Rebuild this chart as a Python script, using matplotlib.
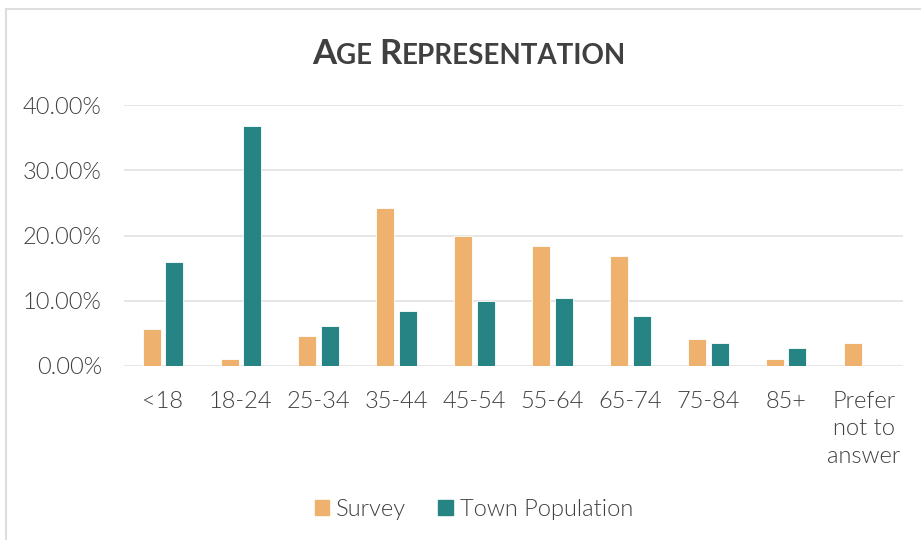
import matplotlib.pyplot as plt
import numpy as np
from matplotlib.patches import Patch, Rectangle
from matplotlib.offsetbox import TextArea, HPacker, AnchoredOffsetbox
from matplotlib.ticker import PercentFormatter

# Data
categories = ["<18", "18-24", "25-34", "35-44", "45-54", "55-64",
              "65-74", "75-84", "85+", "Prefer\nnot to\nanswer"]
survey = [5.7, 1.0, 4.6, 24.2, 20.0, 18.4, 16.8, 4.2, 1.0, 3.6]
town = [15.9, 36.8, 6.2, 8.5, 10.0, 10.4, 7.7, 3.5, 2.7, 0.0]

orange = "#EEB26E"
teal = "#268485"
text_color = "#404040"
grid_color = "#E2E2E2"
fs = 17

plt.rcParams['font.family'] = ['Lato', 'DejaVu Sans']

fig = plt.figure(figsize=(9.21, 5.4), dpi=100)
ax = fig.add_axes([124 / 921, 1 - 366 / 540, (903 - 124) / 921, (366 - 105) / 540])

x = np.arange(len(categories))
w = 0.23
off = 0.145
ax.bar(x - off, survey, w, color=orange, edgecolor="white", linewidth=0.6, zorder=3)
ax.bar(x + off, [v if v > 0 else np.nan for v in town], w, color=teal,
       edgecolor="white", linewidth=0.6, zorder=3)

ax.set_xlim(-0.5, len(categories) - 0.5)
ax.set_ylim(0, 40)
ax.set_yticks([0, 10, 20, 30, 40])
ax.yaxis.set_major_formatter(PercentFormatter(decimals=2))
ax.set_xticks(x)
ax.set_xticklabels(categories, linespacing=1.38)

ax.grid(axis="y", color=grid_color, linewidth=1.2, zorder=0)
for s in ax.spines.values():
    s.set_visible(False)
ax.tick_params(axis="both", length=0, labelsize=fs, labelcolor=text_color)
ax.tick_params(axis="y", pad=16)
ax.tick_params(axis="x", pad=18)
for lbl in ax.get_xticklabels() + ax.get_yticklabels():
    lbl.set_fontweight(300)
for lbl in ax.get_xticklabels():
    lbl.set_verticalalignment("top")

# Title in small caps
parts = [("A", 25), ("GE ", 20), ("R", 25), ("EPRESENTATION", 20)]
areas = [TextArea(t, textprops=dict(fontsize=s, fontweight="bold", color=text_color))
         for t, s in parts]
box = HPacker(children=areas, align="baseline", pad=0, sep=0)
anchored = AnchoredOffsetbox(loc="center", child=box, frameon=False, pad=0,
                             bbox_to_anchor=(469 / 921, 1 - 54 / 540),
                             bbox_transform=fig.transFigure, borderpad=0)
fig.add_artist(anchored)

# Legend
handles = [Patch(color=orange), Patch(color=teal)]
leg = fig.legend(handles, ["Survey", "Town Population"], loc="center",
                 bbox_to_anchor=(474 / 921, 1 - 509 / 540), ncol=2, frameon=False,
                 handlelength=0.6, handleheight=0.6, handletextpad=0.3,
                 columnspacing=1.35, prop=dict(size=fs, weight=300))
for t in leg.get_texts():
    t.set_color(text_color)

# Chart border
fig.add_artist(Rectangle((6 / 921, -0.1), 1.2, 1 - 9 / 540 + 0.1, fill=False,
                         edgecolor="#DEDEDE", linewidth=1.5,
                         transform=fig.transFigure))

fig.savefig("out.png", dpi=100)
